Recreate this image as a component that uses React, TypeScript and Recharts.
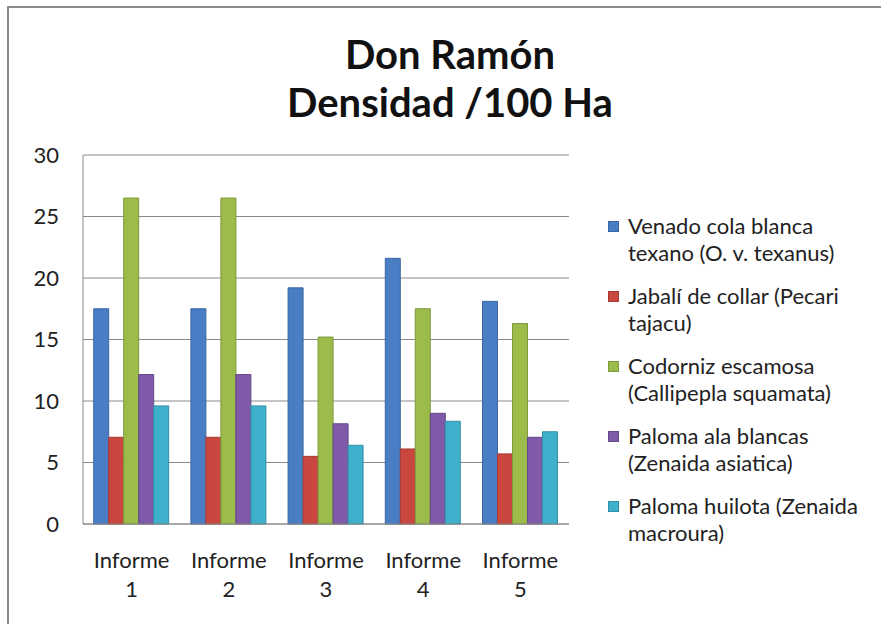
import { BarChart, Bar, XAxis, YAxis, CartesianGrid } from 'recharts'

const informes = ['Informe 1', 'Informe 2', 'Informe 3', 'Informe 4', 'Informe 5']
const venado = [17.5, 17.5, 19.2, 21.6, 18.1]
const jabali = [7.05, 7.05, 5.5, 6.1, 5.7]
const codorniz = [26.5, 26.5, 15.2, 17.5, 16.3]
const palomaAla = [12.15, 12.15, 8.15, 9.0, 7.05]
const huilota = [9.6, 9.6, 6.4, 8.35, 7.5]
const yTicks = [0, 5, 10, 15, 20, 25, 30]

const seriesNames = [
  'Venado cola blanca texano (O. v. texanus)',
  'Jabalí de collar (Pecari tajacu)',
  'Codorniz escamosa (Callipepla squamata)',
  'Paloma ala blancas (Zenaida asiatica)',
  'Paloma huilota (Zenaida macroura)',
]
// como se parte cada nombre en la leyenda
const legendLines = [
  ['Venado cola blanca', 'texano (O. v. texanus)'],
  ['Jabalí de collar (Pecari', 'tajacu)'],
  ['Codorniz escamosa', '(Callipepla squamata)'],
  ['Paloma ala blancas', '(Zenaida asiatica)'],
  ['Paloma huilota (Zenaida', 'macroura)'],
]
const colors = ['#4a7ec4', '#c9473f', '#9bbb4a', '#7f5aa8', '#3fb0cc']
const strokes = ['#3a66a3', '#a53a33', '#7e9a3b', '#654888', '#3190a8']

const series = [venado, jabali, codorniz, palomaAla, huilota]

const data = informes.map((inf, i) => {
  const row: any = { informe: inf }
  seriesNames.forEach((n, s) => { row[n] = series[s][i] })
  return row
})

const font = 'Lato, "Open Sans", sans-serif'

function InformeTick(props: any) {
  const { x, y, payload } = props
  const parts = String(payload.value).split(' ')
  return (
    <text x={x} y={y} textAnchor="middle" fill="#222" fontSize={22} fontFamily={font}>
      <tspan x={x} dy={36}>{parts[0]}</tspan>
      <tspan x={x} dy={29}>{parts[1]}</tspan>
    </text>
  )
}

function SpeciesLegend() {
  return (
    <div style={{
      position: 'absolute', left: 608, top: 212, width: 273,
      fontFamily: font, fontSize: 22, color: '#222', whiteSpace: 'nowrap',
    }}>
      {legendLines.map((lines, i) => (
        <div key={i} style={{ position: 'relative', paddingLeft: 20, marginBottom: 16, lineHeight: '27px' }}>
          <span style={{
            position: 'absolute', left: 0, top: 9, width: 11, height: 11,
            background: colors[i], border: `1px solid ${strokes[i]}`, boxSizing: 'border-box',
          }} />
          {lines.map((l, j) => <div key={j}>{l}</div>)}
        </div>
      ))}
    </div>
  )
}

export default function App() {
  return (
    <div style={{ position: 'absolute', left: 0, top: 0, width: 881, height: 624, background: '#fff', overflow: 'hidden' }}>
      <div style={{
        position: 'absolute', left: 7, top: 6, width: 874, height: 620,
        borderLeft: '2px solid #8a8a8a', borderTop: '2px solid #8a8a8a',
      }} />
      <div style={{
        position: 'absolute', left: 0, width: 900, top: 30, textAlign: 'center',
        fontFamily: font, fontWeight: 700, fontSize: 40, lineHeight: '48px', color: '#111',
      }}>
        <div>Don Ramón</div>
        <div>Densidad /100 Ha</div>
      </div>
      <div style={{ position: 'absolute', left: 0, top: 0 }}>
        <BarChart
          width={881}
          height={624}
          data={data}
          margin={{ top: 155, right: 312, bottom: 70, left: 23 }}
          barCategoryGap="11%"
          barGap={0}
        >
          <CartesianGrid horizontal vertical={false} stroke="#8a8a8a" />
          <XAxis
            dataKey="informe"
            height={30}
            tick={<InformeTick />}
            tickLine={false}
            axisLine={{ stroke: '#8a8a8a' }}
            interval={0}
          />
          <YAxis
            width={60}
            domain={[0, 30]}
            ticks={yTicks}
            tick={{ fontSize: 22, fill: '#222', fontFamily: font }}
            tickLine={false}
            tickSize={0}
            tickMargin={24}
            axisLine={{ stroke: '#8a8a8a' }}
          />
          {seriesNames.map((n, i) => (
            <Bar key={n} dataKey={n} fill={colors[i]} stroke={strokes[i]} strokeWidth={1} isAnimationActive={false} />
          ))}
        </BarChart>
      </div>
      <SpeciesLegend />
    </div>
  )
}
